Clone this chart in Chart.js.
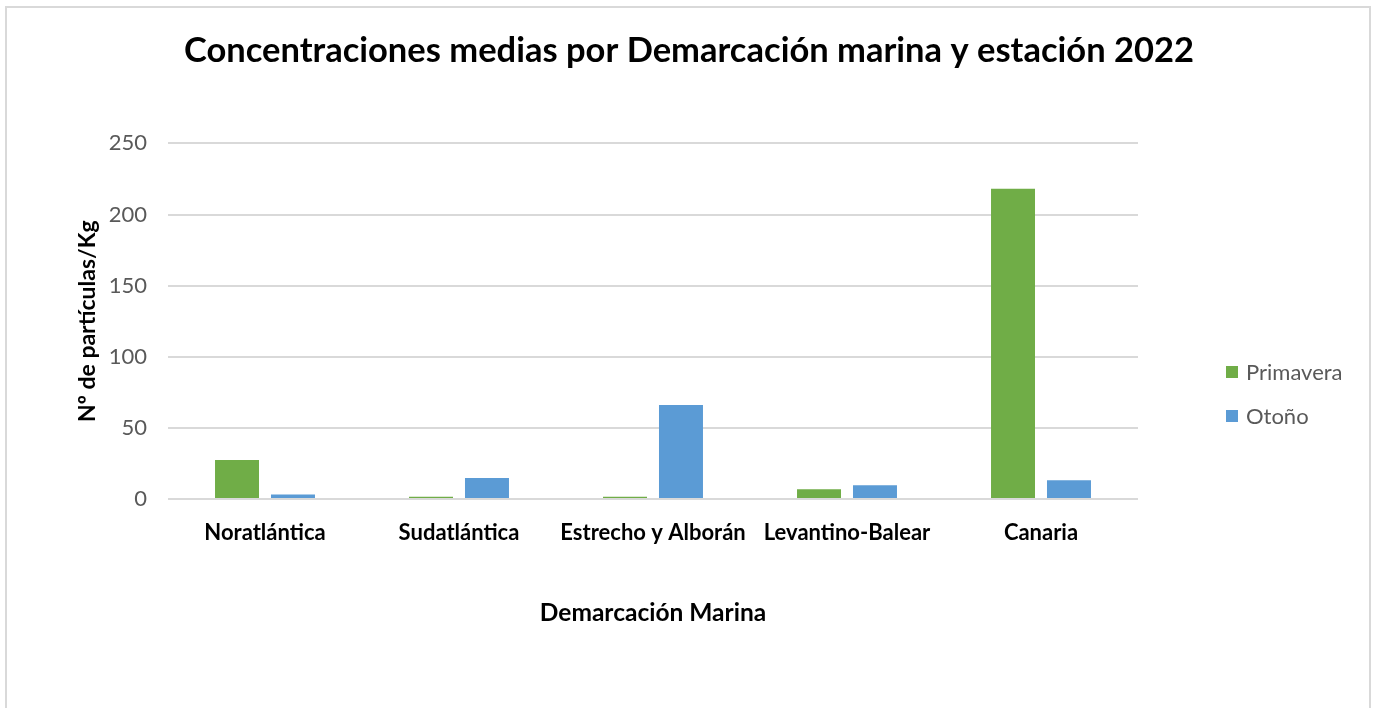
<!DOCTYPE html>
<html>
<head>
<meta charset="utf-8">
<script src="https://cdn.jsdelivr.net/npm/chart.js@4"></script>
<style>
  html, body { margin: 0; padding: 0; background: #fff; }
  #wrap { width: 1378px; height: 708px; position: relative; }
</style>
</head>
<body>
<div id="wrap"><canvas id="chart" width="1378" height="708"></canvas></div>
<script>
const FONT = 'Lato, "Open Sans", sans-serif';

const categories = ['Noratlántica', 'Sudatlántica', 'Estrecho y Alborán', 'Levantino-Balear', 'Canaria'];
const primavera = [27.5, 1.5, 1.5, 6.8, 218.2];
const otono = [3.2, 14.7, 66.0, 9.6, 13.1];
const yTicks = [0, 50, 100, 150, 200, 250];

// outer frame like the spreadsheet chart box
const framePlugin = {
  id: 'frame',
  beforeDraw (chart) {
    const ctx = chart.ctx;
    ctx.save();
    ctx.fillStyle = '#fff';
    ctx.fillRect(0, 0, chart.width, chart.height);
    ctx.strokeStyle = '#d9d9d9';
    ctx.lineWidth = 2;
    ctx.strokeRect(6, 7, 1364, 720);
    ctx.restore();
  }
};

// legend as a layout box on the right, keeps the title centred on the canvas
class SideLegend {
  constructor (chart) {
    this.chart = chart;
    this.options = {};
    this.position = 'right';
    this.weight = 1000;
    this.fullSize = false;
    this.width = 0;
    this.height = 0;
  }

  isHorizontal () {
    return false;
  }

  update (maxWidth, maxHeight) {
    this.width = 240;
    this.height = maxHeight;
  }

  draw () {
    const ctx = this.chart.ctx;
    const x = this.left + 88;
    let y = 372;
    ctx.save();
    ctx.font = '22px ' + FONT;
    ctx.textBaseline = 'middle';
    this.chart.data.datasets.forEach(ds => {
      ctx.fillStyle = ds.backgroundColor;
      ctx.fillRect(x, y - 6, 12, 12);
      ctx.fillStyle = '#595959';
      ctx.fillText(ds.label, x + 20, y + 1);
      y += 44;
    });
    ctx.restore();
  }
}

const sideLegendPlugin = {
  id: 'sideLegend',
  start (chart) {
    Chart.layouts.addBox(chart, new SideLegend(chart));
  }
};

new Chart(document.getElementById('chart'), {
  type: 'bar',
  data: {
    labels: categories,
    datasets: [
      { label: 'Primavera', data: primavera, backgroundColor: '#70ad47' },
      { label: 'Otoño', data: otono, backgroundColor: '#5b9bd5' }
    ]
  },
  options: {
    responsive: false,
    animation: false,
    devicePixelRatio: 1,
    layout: { padding: 0 },
    datasets: {
      bar: { categoryPercentage: 0.577, barPercentage: 0.786 }
    },
    plugins: {
      legend: { display: false },
      tooltip: { enabled: false },
      title: {
        display: true,
        text: 'Concentraciones medias por Demarcación marina y estación 2022',
        color: '#000',
        font: { family: FONT, size: 34.5, weight: 'bold' },
        padding: { top: 30, bottom: 72 }
      }
    },
    scales: {
      x: {
        grid: { display: false },
        border: { display: false },
        ticks: {
          color: '#000',
          padding: 13,
          maxRotation: 0,
          font: { family: FONT, size: 22, weight: 'bold' }
        },
        title: {
          display: true,
          text: 'Demarcación Marina',
          color: '#000',
          font: { family: FONT, size: 24.5, weight: 'bold' },
          padding: { top: 0, bottom: 80 }
        },
        afterFit (scale) { scale.height = 209; }
      },
      y: {
        min: 0,
        max: 250,
        afterBuildTicks (scale) { scale.ticks = yTicks.map(v => ({ value: v })); },
        grid: { color: '#d9d9d9', lineWidth: 2, drawTicks: false },
        border: { display: false },
        ticks: {
          color: '#595959',
          padding: 21,
          font: { family: FONT, size: 22 }
        },
        title: {
          display: true,
          text: 'Nº de partículas/Kg',
          color: '#000',
          font: { family: FONT, size: 23, weight: 'bold' },
          padding: { top: 74, bottom: 0 }
        },
        afterFit (scale) { scale.width = 168; }
      }
    }
  },
  plugins: [framePlugin, sideLegendPlugin]
});
</script>
</body>
</html>
